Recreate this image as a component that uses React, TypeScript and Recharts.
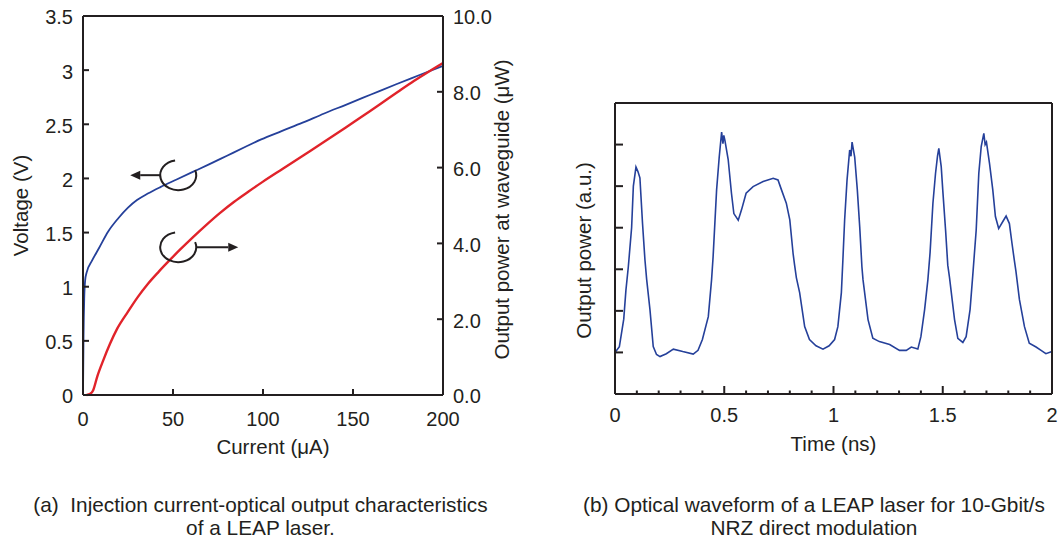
import React from 'react';
import { LineChart, Line, XAxis, YAxis, ReferenceDot } from 'recharts';

// (a) injection current vs voltage / optical output
const ivCurrent = [0, 0.3, 0.7, 1.2, 2, 5, 9, 14, 19.5, 25, 30, 36, 43, 52, 61, 70, 80, 90, 99, 110, 122, 134, 146, 160, 174, 187, 200];
const ivVoltage = [0, 0.55, 0.9, 1.06, 1.13, 1.24, 1.36, 1.51, 1.63, 1.73, 1.8, 1.86, 1.92, 1.99, 2.06, 2.13, 2.21, 2.29, 2.36, 2.435, 2.515, 2.6, 2.68, 2.775, 2.87, 2.955, 3.04];

const ilCurrent = [2, 4, 5.6, 8, 11.3, 15, 19, 25, 30.5, 36, 42, 48, 53.6, 61, 69, 76, 84, 92, 100, 111, 123, 134, 146, 155, 165, 175, 184, 192, 200];
const ilPower = [0, 0.03, 0.12, 0.5, 0.92, 1.35, 1.75, 2.2, 2.59, 2.93, 3.25, 3.55, 3.82, 4.16, 4.51, 4.8, 5.1, 5.37, 5.63, 5.97, 6.34, 6.68, 7.06, 7.35, 7.67, 8.0, 8.29, 8.53, 8.76];

const currentTicks = [0, 50, 100, 150, 200];
const currentTopTicks = [50, 100, 150];
const voltageTicks = [0, 0.5, 1, 1.5, 2, 2.5, 3, 3.5];
const powerTicks = [0, 2, 4, 6, 8, 10];

// where the loop-arrow markers sit (current, value)
const voltMarker = { x: 52.9, y: 2.03 };
const powerMarker = { x: 52.9, y: 3.9 };

// (b) optical waveform, 10 Gbit/s NRZ
const waveTime = [
  0, 0.02, 0.04, 0.05, 0.061, 0.076, 0.084, 0.096, 0.105, 0.114, 0.126, 0.137, 0.145, 0.16, 0.175, 0.19, 0.206, 0.235, 0.267, 0.31,
  0.358, 0.38, 0.4, 0.427, 0.442, 0.449, 0.465, 0.477, 0.488, 0.494, 0.498, 0.503, 0.518, 0.533, 0.544, 0.564, 0.579, 0.6, 0.632, 0.678,
  0.724, 0.746, 0.762, 0.784, 0.8, 0.815, 0.822, 0.83, 0.845, 0.868, 0.89, 0.92, 0.952, 0.98, 1.005, 1.02, 1.036, 1.043, 1.051, 1.062,
  1.074, 1.08, 1.085, 1.097, 1.109, 1.12, 1.13, 1.135, 1.158, 1.18, 1.21, 1.257, 1.302, 1.333, 1.356, 1.386, 1.4, 1.417, 1.432, 1.442,
  1.455, 1.467, 1.476, 1.482, 1.493, 1.5, 1.513, 1.523, 1.531, 1.554, 1.569, 1.592, 1.607, 1.625, 1.637, 1.653, 1.665, 1.676, 1.688, 1.694,
  1.7, 1.714, 1.729, 1.741, 1.756, 1.775, 1.79, 1.805, 1.817, 1.828, 1.835, 1.851, 1.874, 1.896, 1.927, 1.95, 1.972, 2.0,
];
const waveLevel = [
  1.0, 1.14, 1.8, 2.5, 3.06, 4.0, 5.0, 5.46, 5.35, 5.2, 4.1, 3.23, 2.75, 2.03, 1.14, 0.95, 0.9, 0.97, 1.08, 1.02,
  0.96, 1.05, 1.31, 1.86, 2.75, 3.3, 4.91, 5.7, 6.3, 6.02, 6.22, 6.1, 5.64, 4.83, 4.34, 4.18, 4.43, 4.83, 4.99, 5.11,
  5.19, 5.15, 4.91, 4.59, 4.19, 3.38, 3.1, 2.8, 2.44, 1.62, 1.31, 1.16, 1.08, 1.16, 1.31, 1.62, 2.44, 3.23, 4.19, 5.15,
  5.87, 5.72, 6.06, 5.7, 4.91, 4.02, 3.06, 2.75, 1.79, 1.34, 1.26, 1.19, 1.05, 1.05, 1.13, 1.08, 1.38, 2.03, 2.75, 3.4,
  4.59, 5.31, 5.72, 5.91, 5.47, 4.91, 3.94, 3.1, 2.8, 1.79, 1.34, 1.24, 1.38, 2.03, 2.83, 3.94, 5.31, 5.95, 6.27, 6.0,
  6.06, 5.55, 4.91, 4.27, 3.98, 4.15, 4.28, 4.1, 3.62, 3.2, 2.95, 2.27, 1.62, 1.22, 1.13, 1.05, 0.97, 1.02,
];

const timeTicks = [0, 0.5, 1, 1.5, 2];
const timeMinorTicks = [0, 0.1, 0.2, 0.3, 0.4, 0.5, 0.6, 0.7, 0.8, 0.9, 1, 1.1, 1.2, 1.3, 1.4, 1.5, 1.6, 1.7, 1.8, 1.9, 2];
const levelTicks = [1, 2, 3, 4, 5, 6];

const ivData = ivCurrent.map((x, i) => ({ x, v: ivVoltage[i] }));
const ilData = ilCurrent.map((x, i) => ({ x, p: ilPower[i] }));
const waveData = waveTime.map((t, i) => ({ t, level: waveLevel[i] }));

const INK = '#231f20';
const BLUE = '#25409a';
const RED = '#e1232a';
const FONT = '"Liberation Sans", Arial, Helvetica, sans-serif';
const FS = 20;
const TITLE_FS = 20.5;

const axisLine = { stroke: INK, strokeWidth: 2 };

type TickOpts = {
  side: 'left' | 'right' | 'bottom' | 'top';
  len: number;
  major?: number[];
  minorLen?: number;
  gap?: number;
  labels?: boolean | number[];
  format?: (v: number) => string;
};

// ticks point into the plot; recharts hands us the axis-line position
// because tickSize and tickMargin are both 0
const inwardTick = (o: TickOpts) => (props: any) => {
  const { x, y, payload } = props;
  const v = payload.value as number;
  const isMajor = !o.major || o.major.includes(v);
  const len = isMajor ? o.len : o.minorLen ?? 0;
  const showLabel = Array.isArray(o.labels) ? o.labels.includes(v) : !!o.labels;
  const text = showLabel ? (o.format ? o.format(v) : String(v)) : null;
  const gap = o.gap ?? 10;
  const line = { x1: x, y1: y, x2: x, y2: y };
  let label = null;
  if (o.side === 'bottom') {
    line.y2 = y - len;
    if (text) label = <text x={x} y={y + gap} dy="0.71em" textAnchor="middle" fill={INK} fontSize={FS}>{text}</text>;
  } else if (o.side === 'top') {
    line.y2 = y + len;
  } else if (o.side === 'left') {
    line.x2 = x + len;
    if (text) label = <text x={x - gap} y={y} dy="0.42em" textAnchor="end" fill={INK} fontSize={FS}>{text}</text>;
  } else {
    line.x2 = x - len;
    if (text) label = <text x={x + gap} y={y} dy="0.42em" textAnchor="start" fill={INK} fontSize={FS}>{text}</text>;
  }
  return (
    <g>
      {len > 0 && <line {...line} stroke={INK} strokeWidth={2} />}
      {label}
    </g>
  );
};

// open ring with an arrow telling which axis the curve belongs to
function LoopArrow(props: any) {
  const { cx, cy, dir } = props;
  if (cx == null || cy == null) return null;
  const rx = 18;
  const ry = 15;
  const a0 = (100 * Math.PI) / 180;
  const a1 = (20 * Math.PI) / 180;
  const sx = cx + rx * Math.cos(a0);
  const sy = cy - ry * Math.sin(a0);
  const ex = cx + rx * Math.cos(a1);
  const ey = cy - ry * Math.sin(a1);
  const from = dir === 'left' ? cx - rx : cx + rx;
  const tip = dir === 'left' ? cx - rx - 30 : cx + rx + 42;
  const head = dir === 'left' ? 10 : -10;
  return (
    <g>
      <path d={`M${sx},${sy} A${rx},${ry} 0 1 0 ${ex},${ey}`} fill="none" stroke={INK} strokeWidth={2} />
      <line x1={from} y1={cy} x2={tip + head} y2={cy} stroke={INK} strokeWidth={2} />
      <path d={`M${tip},${cy} L${tip + head},${cy - 4.5} L${tip + head},${cy + 4.5} Z`} fill={INK} />
    </g>
  );
}

const bare = { tickLine: false, tickSize: 0, tickMargin: 0, interval: 0 as const, axisLine };

function CharacteristicsChart() {
  return (
    <LineChart width={540} height={470} margin={{ top: 0, right: 0, bottom: 0, left: 0 }}>
      <XAxis
        {...bare}
        xAxisId="bottom"
        type="number"
        dataKey="x"
        domain={[0, 200]}
        ticks={currentTicks}
        height={75}
        tick={inwardTick({ side: 'bottom', len: 6, major: currentTopTicks, minorLen: 0, labels: true, gap: 16.5 })}
        label={{ value: 'Current (μA)', position: 'center', dx: 10, dy: 14, fill: INK, fontSize: TITLE_FS }}
      />
      <XAxis
        {...bare}
        xAxisId="top"
        orientation="top"
        type="number"
        domain={[0, 200]}
        ticks={currentTopTicks}
        height={16}
        tick={inwardTick({ side: 'top', len: 6 })}
      />
      <YAxis
        {...bare}
        yAxisId="volt"
        type="number"
        domain={[0, 3.5]}
        ticks={voltageTicks}
        width={83}
        tick={inwardTick({ side: 'left', len: 6, labels: true, gap: 10 })}
        label={{ value: 'Voltage (V)', angle: -90, position: 'center', dx: -21, fill: INK, fontSize: TITLE_FS }}
      />
      <YAxis
        {...bare}
        yAxisId="power"
        orientation="right"
        type="number"
        domain={[0, 10]}
        ticks={powerTicks}
        width={97}
        tick={inwardTick({ side: 'right', len: 6, labels: true, gap: 10, format: (v) => v.toFixed(1) })}
        label={{ value: 'Output power at waveguide (μW)', angle: -90, position: 'center', dx: 10, dy: 4, fill: INK, fontSize: TITLE_FS }}
      />
      <Line
        xAxisId="bottom"
        yAxisId="volt"
        data={ivData}
        dataKey="v"
        type="monotone"
        stroke={BLUE}
        strokeWidth={1.8}
        dot={false}
        isAnimationActive={false}
      />
      <Line
        xAxisId="bottom"
        yAxisId="power"
        data={ilData}
        dataKey="p"
        type="monotone"
        stroke={RED}
        strokeWidth={2.4}
        dot={false}
        isAnimationActive={false}
      />
      <ReferenceDot
        xAxisId="bottom"
        yAxisId="volt"
        x={voltMarker.x}
        y={voltMarker.y}
        shape={(p: any) => <LoopArrow {...p} dir="left" />}
      />
      <ReferenceDot
        xAxisId="bottom"
        yAxisId="power"
        x={powerMarker.x}
        y={powerMarker.y}
        shape={(p: any) => <LoopArrow {...p} dir="right" />}
      />
    </LineChart>
  );
}

function WaveformChart() {
  return (
    <LineChart width={522} height={470} margin={{ top: 0, right: 0, bottom: 0, left: 0 }}>
      <XAxis
        {...bare}
        xAxisId="time"
        type="number"
        dataKey="t"
        domain={[0, 2]}
        ticks={timeMinorTicks}
        height={76}
        tick={inwardTick({ side: 'bottom', len: 8, major: timeTicks, minorLen: 3.5, labels: timeTicks, gap: 14 })}
        label={{ value: 'Time (ns)', position: 'center', dy: 12, fill: INK, fontSize: TITLE_FS }}
      />
      <XAxis
        {...bare}
        xAxisId="timeTop"
        orientation="top"
        type="number"
        domain={[0, 2]}
        ticks={timeMinorTicks}
        height={103}
        tick={inwardTick({ side: 'top', len: 8, major: timeTicks, minorLen: 3.5 })}
      />
      <YAxis
        {...bare}
        yAxisId="level"
        type="number"
        domain={[0, 7]}
        ticks={levelTicks}
        width={75}
        tick={inwardTick({ side: 'left', len: 8 })}
        label={{ value: 'Output power (a.u.)', angle: -90, position: 'center', dx: 6, dy: 2, fill: INK, fontSize: TITLE_FS }}
      />
      <YAxis
        {...bare}
        yAxisId="levelRight"
        orientation="right"
        type="number"
        domain={[0, 7]}
        ticks={levelTicks}
        width={10}
        tick={inwardTick({ side: 'right', len: 8 })}
      />
      <Line
        xAxisId="time"
        yAxisId="level"
        data={waveData}
        dataKey="level"
        type="linear"
        stroke={BLUE}
        strokeWidth={1.6}
        dot={false}
        isAnimationActive={false}
      />
    </LineChart>
  );
}

const captionStyle: React.CSSProperties = {
  position: 'absolute',
  top: 493,
  fontSize: 20.8,
  lineHeight: '23px',
  textAlign: 'center',
  color: INK,
  whiteSpace: 'pre',
};

export default function App() {
  return (
    <div
      style={{
        position: 'absolute',
        left: 0,
        top: 0,
        width: 1062,
        height: 539,
        background: '#fff',
        fontFamily: FONT,
        overflow: 'hidden',
      }}
    >
      <div style={{ position: 'absolute', left: 0, top: 0 }}>
        <CharacteristicsChart />
      </div>
      <div style={{ position: 'absolute', left: 540, top: 0 }}>
        <WaveformChart />
      </div>
      <div style={{ ...captionStyle, left: 0, width: 521 }}>
        {'(a)  Injection current-optical output characteristics\nof a LEAP laser.'}
      </div>
      <div style={{ ...captionStyle, left: 554, width: 520 }}>
        {'(b) Optical waveform of a LEAP laser for 10-Gbit/s\nNRZ direct modulation'}
      </div>
    </div>
  );
}
